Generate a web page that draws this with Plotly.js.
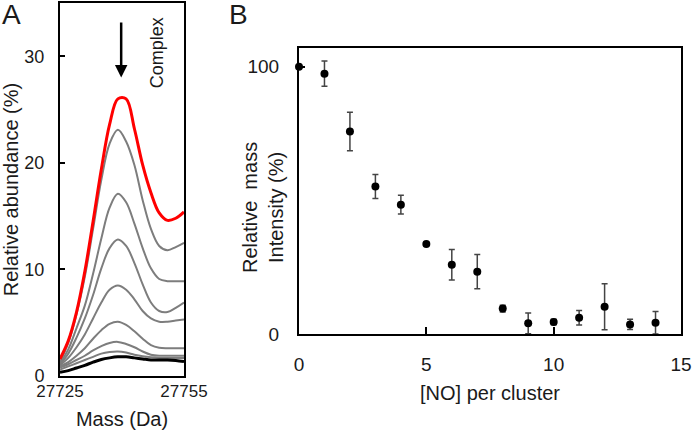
<!DOCTYPE html>
<html>
<head>
<meta charset="utf-8">
<script src="https://cdn.plot.ly/plotly-3.0.1.min.js"></script>
<style>html,body{margin:0;padding:0;background:#fff}#chart{width:693px;height:435px}</style>
</head>
<body>
<div id="chart"></div>
<script>
// Panel A: mass spectra (mass in Da)
const mass = [27725,27727,27729,27731,27733,27735,27737,27739,27741,27743,27745,27747,27749,27751,27753,27755];
const specRed = [1.6,3.3,6.0,9.8,14.5,19.4,23.6,26.0,26.0,23.2,19.8,17.2,15.3,14.6,14.8,15.4];
const spec2 = [1.3,3.1,5.8,9.3,13.8,18.4,21.8,23.1,22.0,19.8,16.5,13.8,12.2,11.8,12.1,12.5];
const spec3 = [1.2,2.5,4.5,6.6,9.6,12.9,15.8,17.1,16.3,14.3,12.0,10.1,9.1,8.9,8.9,8.9];
const spec4 = [1.1,2.1,3.6,5.4,7.6,10.1,12.0,12.8,12.2,10.6,8.6,6.9,6.1,6.0,6.4,6.9];
const spec5 = [1.0,1.7,2.7,3.9,5.4,6.9,8.1,8.5,8.1,7.2,6.1,5.4,5.1,5.1,5.2,5.3];
const spec6 = [0.9,1.3,1.9,2.6,3.5,4.3,4.9,5.1,4.8,4.2,3.5,2.9,2.65,2.6,2.6,2.6];
const spec7 = [0.8,1.1,1.5,1.9,2.4,2.8,3.1,3.2,3.0,2.7,2.3,2.0,1.9,1.9,1.9,1.9];
const spec8 = [0.6,0.9,1.2,1.5,1.8,2.1,2.25,2.3,2.2,2.0,1.85,1.75,1.7,1.7,1.7,1.7];
const specBlack = [0.35,0.5,0.75,1.0,1.3,1.55,1.7,1.8,1.8,1.7,1.6,1.5,1.5,1.5,1.45,1.35];
const massTicks = [27725, 27755];
const abundTicks = [0, 10, 20, 30];

// Panel B: relative mass intensity vs [NO] per cluster
const noPerCluster = [0,1,2,3,4,5,6,7,8,9,10,11,12,13,14];
const intensity = [100,97.4,75.8,55.2,48.4,33.7,25.9,23.3,9.5,4.0,4.5,6.1,10.2,3.6,4.2];
const intensityErr = [0,4.7,7.2,4.5,3.5,0.5,5.7,6.4,1.3,3.9,1.0,2.7,8.6,1.9,4.2];
const noTicks = [0,5,10,15];
const intTicks = [0,100];

const FONT = 'Liberation Sans, Arial, sans-serif';
const TXT = '#1a1a1a';
const GREY = '#7d7d7d';

const greySeries = [spec8, spec7, spec6, spec5, spec4, spec3, spec2];
const traces = [];
greySeries.forEach(s => traces.push({
  x: mass, y: s, type: 'scatter', mode: 'lines', xaxis: 'x', yaxis: 'y',
  line: {color: GREY, width: 2, shape: 'spline', smoothing: 1}, hoverinfo: 'skip', showlegend: false
}));
traces.push({x: mass, y: specBlack, type: 'scatter', mode: 'lines', xaxis: 'x', yaxis: 'y',
  line: {color: '#000', width: 3, shape: 'spline', smoothing: 1}, showlegend: false});
traces.push({x: mass, y: specRed, type: 'scatter', mode: 'lines', xaxis: 'x', yaxis: 'y',
  line: {color: '#ff0000', width: 3, shape: 'spline', smoothing: 1}, showlegend: false});
traces.push({x: noPerCluster, y: intensity, type: 'scatter', mode: 'markers', xaxis: 'x2', yaxis: 'y2',
  marker: {color: '#000', size: 8}, cliponaxis: false,
  error_y: {type: 'data', array: intensityErr, visible: true, color: '#444', thickness: 1.5, width: 3},
  showlegend: false});

const axBase = {
  showline: true, mirror: true, linecolor: '#000', linewidth: 2,
  showgrid: false, zeroline: false, ticks: 'inside', tickcolor: '#000', tickwidth: 2,
  automargin: false, tickfont: {family: FONT, size: 18, color: TXT}
};

const layout = {
  width: 693, height: 435,
  margin: {l: 0, r: 0, t: 0, b: 0},
  paper_bgcolor: '#fff', plot_bgcolor: '#fff',
  font: {family: FONT, color: TXT},
  showlegend: false,
  xaxis: Object.assign({}, axBase, {
    domain: [60/693, 184/693], range: [27725, 27755], tickvals: massTicks, tickformat: 'd', ticklen: 0,
    ticklabelstandoff: -1, anchor: 'y', tickfont: {family: FONT, size: 17, color: TXT},
    title: {text: 'Mass (Da)', font: {family: FONT, size: 20, color: TXT}, standoff: 12}
  }),
  yaxis: Object.assign({}, axBase, {
    domain: [1 - 376/435, 1 - 3/435], range: [0, 35], tickvals: abundTicks, ticklen: 5,
    ticklabelstandoff: 10, anchor: 'x',
    title: {text: 'Relative abundance (%)', font: {family: FONT, size: 20, color: TXT}, standoff: 6}
  }),
  xaxis2: Object.assign({}, axBase, {
    domain: [299/693, 681/693], range: [0, 15], tickvals: noTicks, ticklen: 7,
    ticklabelstandoff: 12, anchor: 'y2', tickfont: {family: FONT, size: 19, color: TXT},
    title: {text: '[NO] per cluster', font: {family: FONT, size: 20, color: TXT}, standoff: 12}
  }),
  yaxis2: Object.assign({}, axBase, {
    domain: [1 - 334/435, 1 - 48/435], range: [0, 107], tickvals: intTicks, ticklen: 6,
    ticklabelstandoff: 14, anchor: 'x2', tickfont: {family: FONT, size: 19, color: TXT}
  }),
  annotations: [
    {xref: 'x', yref: 'y', x: 27739.8, y: 28.0, ax: 27739.8, ay: 33.3, axref: 'x', ayref: 'y',
     showarrow: true, arrowhead: 2, arrowsize: 1, arrowwidth: 2.5, arrowcolor: '#000', text: ''},
    {xref: 'x', yref: 'y', x: 27748.5, y: 30.3, text: 'Complex', textangle: -90, showarrow: false,
     font: {family: FONT, size: 18, color: TXT}},
    {xref: 'paper', yref: 'paper', x: 263/693, y: 1 - 208/435, xanchor: 'center', yanchor: 'middle',
     text: 'Relative  mass<br>Intensity (%)',
     textangle: -90, showarrow: false, align: 'center', font: {family: FONT, size: 20, color: TXT}},
    {xref: 'paper', yref: 'paper', x: 11/693, y: 1 - 15/435, xanchor: 'center', yanchor: 'middle',
     text: 'A', showarrow: false, font: {family: FONT, size: 28, color: TXT}},
    {xref: 'paper', yref: 'paper', x: 238/693, y: 1 - 15/435, xanchor: 'center', yanchor: 'middle',
     text: 'B', showarrow: false, font: {family: FONT, size: 28, color: TXT}}
  ]
};

Plotly.newPlot('chart', traces, layout, {staticPlot: true, displayModeBar: false});
</script>
</body>
</html>
